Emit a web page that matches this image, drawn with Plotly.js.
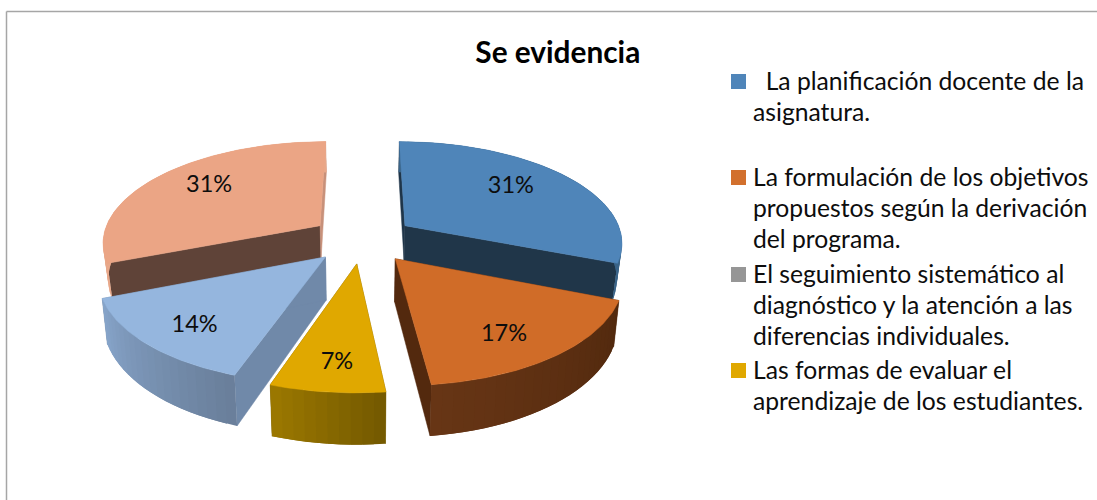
<!DOCTYPE html>
<html>
<head>
<meta charset="utf-8">
<script src="https://cdn.plot.ly/plotly-3.0.1.min.js"></script>
<style>html,body{margin:0;padding:0;background:#fff}#chart{width:1097px;height:500px}</style>
</head>
<body>
<div id="chart"></div>
<script>
// ---- data ----
var chartTitle = 'Se evidencia';
var legendLabels = [
  ['\u00a0\u00a0La planificación docente de la', 'asignatura.'],
  ['La formulación de los objetivos', 'propuestos según la derivación', 'del programa.'],
  ['El seguimiento sistemático al', 'diagnóstico y la atención a las', 'diferencias individuales.'],
  ['Las formas de evaluar el', 'aprendizaje de los estudiantes.']
];
var sliceValues = [31.0, 17.2, 0, 7.0, 13.8, 31.0];

// ---- styles ----
var topColors  = ['#4f85b9', '#d06c28', '#969696', '#e0a800', '#95b6de', '#eba585'];
var swatchColors = ['#4f85b9', '#d2702d', '#969696', '#e0a800'];
var rimStart   = ['#3a6488', '#52290e', '#777777', '#755a00', '#6a7f9b', '#e8a88a'];
var rimEnd     = ['#3a6488', '#673515', '#777777', '#9a7700', '#86a4c9', '#e8a88a'];
var wallStart  = ['#1f3549', '#53290e', '#666666', '#7b5e00', '#7089a9', '#5f4338'];
var wallEnd    = ['#203649', '#53290e', '#666666', '#7b5e00', '#7089a9', '#c8917a'];
var sliceDepth = [36, 42, 42, 42, 42, 36];
var labelNudgeX = [-11.5, -2.5, 0, 0.5, -6.5, 6.5];
var labelNudgeY = [-2, 9, 0, 12, 9, -3];

// ---- projection of the tilted pie onto the pixel-sized axes ----
var CX = 362.5, CY = 239, RX = 218, RY = 100.7, PERSP = 0.153, PULL = 0.24, BOTTOM_SHRINK = 0.98;
var LABEL_RADIUS = 0.72;
var RAD = Math.PI / 180;

function project(thetaDeg, rho, midDeg, depth) {
  var X = PULL * Math.sin(midDeg * RAD) + rho * Math.sin(thetaDeg * RAD);
  var Y = PULL * Math.cos(midDeg * RAD) + rho * Math.cos(thetaDeg * RAD);
  var s = 1 / (1 + PERSP * Y);
  var x = CX + RX * X * s;
  var y = CY - RY * Y * s;
  if (depth) { y += depth * s; x = CX + (x - CX) * BOTTOM_SHRINK; }
  return [x, y];
}
function polygon(pts, color, lineWidth) {
  return {
    type: 'scatter', mode: lineWidth ? 'lines' : 'none', fill: 'toself', fillcolor: color,
    x: pts.map(function (p) { return p[0]; }).concat([pts[0][0]]),
    y: pts.map(function (p) { return p[1]; }).concat([pts[0][1]]),
    line: {color: color, width: lineWidth || 0}, hoverinfo: 'skip', showlegend: false
  };
}
function mix(a, b, t) {
  function ch(c, i) { return parseInt(c.substr(1 + 2 * i, 2), 16); }
  var out = [0, 1, 2].map(function (i) { return Math.round(ch(a, i) + (ch(b, i) - ch(a, i)) * t); });
  return 'rgb(' + out.join(',') + ')';
}

var total = sliceValues.reduce(function (a, b) { return a + b; }, 0);
var slices = [], acc = 0;
sliceValues.forEach(function (v, i) {
  var a0 = acc / total * 360; acc += v;
  var a1 = acc / total * 360;
  slices.push({i: i, value: v, a0: a0, a1: a1, mid: (a0 + a1) / 2});
});

// far slices first, so nearer slices overlap them
var drawOrder = [5, 0, 4, 1, 3];
var traces = [];
drawOrder.forEach(function (idx) {
  var s = slices[idx], d = sliceDepth[idx], k;
  if (s.value <= 0) return;
  // two straight walls
  traces.push(polygon([project(s.a0, 0, s.mid), project(s.a0, 1, s.mid), project(s.a0, 1, s.mid, d), project(s.a0, 0, s.mid, d)], wallStart[idx], 0.5));
  traces.push(polygon([project(s.a1, 0, s.mid), project(s.a1, 1, s.mid), project(s.a1, 1, s.mid, d), project(s.a1, 0, s.mid, d)], wallEnd[idx], 0.5));
  // curved rim, shaded in strips; each strip runs under the next so no seam shows
  var strips = Math.max(6, Math.round((s.a1 - s.a0) / 2.5));
  for (k = 0; k < strips; k++) {
    var t0 = s.a0 + (s.a1 - s.a0) * k / strips;
    var t1 = s.a0 + (s.a1 - s.a0) * Math.min(strips, k + 2) / strips;
    traces.push(polygon([project(t0, 1, s.mid), project(t1, 1, s.mid), project(t1, 1, s.mid, d), project(t0, 1, s.mid, d)],
      mix(rimStart[idx], rimEnd[idx], k / (strips - 1))));
  }
  // top face
  var face = [project(s.a0, 0, s.mid)], n = Math.max(12, Math.round(s.a1 - s.a0));
  for (k = 0; k <= n; k++) face.push(project(s.a0 + (s.a1 - s.a0) * k / n, 1, s.mid));
  traces.push(polygon(face, topColors[idx], 0.5));
});

// percentage labels
var shown = slices.filter(function (s) { return s.value > 0; });
traces.push({
  type: 'scatter', mode: 'text', hoverinfo: 'skip', showlegend: false,
  x: shown.map(function (s) { return project(s.mid, LABEL_RADIUS, s.mid)[0] + labelNudgeX[s.i]; }),
  y: shown.map(function (s) { return project(s.mid, LABEL_RADIUS, s.mid)[1] + labelNudgeY[s.i]; }),
  text: shown.map(function (s) { return Math.round(s.value / total * 100) + '%'; }),
  textposition: 'middle center',
  textfont: {family: 'Lato, sans-serif', size: 23.5, color: '#0d0d0d'}
});

// legend (top-aligned swatches, wrapped text)
var LEG_SWATCH_X = 738.5, LEG_TEXT_X = 752, LEG_LINE = 31.2;
var legendY = [81.5, 177.5, 274.5, 370.5];
traces.push({
  type: 'scatter', mode: 'markers', hoverinfo: 'skip', showlegend: false,
  x: legendY.map(function () { return LEG_SWATCH_X; }), y: legendY,
  marker: {symbol: 'square', size: 15, color: swatchColors, line: {width: 0}}
});
var annotations = [];
legendLabels.forEach(function (lines, i) {
  lines.forEach(function (txt, k) {
    annotations.push({
      text: txt, xref: 'x', yref: 'y', x: LEG_TEXT_X, y: legendY[i] - 1 + k * LEG_LINE, xanchor: 'left', yanchor: 'middle',
      align: 'left', showarrow: false, borderpad: 0,
      font: {family: 'Lato, sans-serif', size: 24.7, color: '#0d0d0d'}
    });
  });
});

var layout = {
  width: 1097, height: 500, margin: {l: 0, r: 0, t: 0, b: 0},
  paper_bgcolor: '#ffffff', plot_bgcolor: '#ffffff', showlegend: false, hovermode: false,
  title: {text: '<b>' + chartTitle + '</b>', x: 0.5085, xanchor: 'center', y: 0.894, yanchor: 'middle',
          font: {family: 'Lato, sans-serif', size: 29.8, color: '#000000'}},
  xaxis: {range: [0, 1097], visible: false, fixedrange: true},
  yaxis: {range: [500, 0], visible: false, fixedrange: true},
  annotations: annotations,
  shapes: [
    {type: 'line', xref: 'paper', yref: 'paper', x0: 6.5 / 1097, x1: 1, y0: 1 - 11.5 / 500, y1: 1 - 11.5 / 500, line: {color: '#a6a6a6', width: 1.5}},
    {type: 'line', xref: 'paper', yref: 'paper', x0: 6.5 / 1097, x1: 6.5 / 1097, y0: 1 - 11.5 / 500, y1: 0, line: {color: '#a6a6a6', width: 1.5}}
  ]
};
Plotly.newPlot('chart', traces, layout, {displayModeBar: false, staticPlot: true});
</script>
</body>
</html>
